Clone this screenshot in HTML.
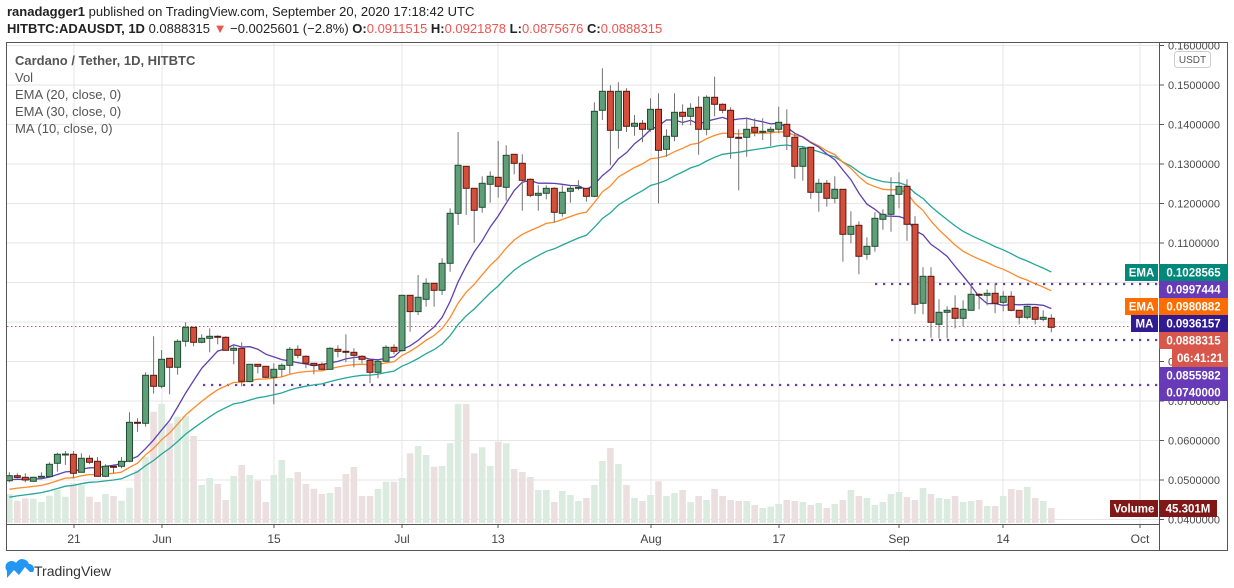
<!DOCTYPE html>
<html><head><meta charset="utf-8">
<style>
body{margin:0;width:1234px;height:588px;background:#fff;overflow:hidden;font-family:"Liberation Sans",sans-serif;}
#hdr{position:absolute;left:7px;top:3px;font-size:13px;color:#222;line-height:17px;white-space:nowrap;z-index:5}
#hdr b{font-weight:bold}
.r{color:#ef5350}
</style></head><body>
<svg id="s" width="1234" height="588" style="position:absolute;left:0;top:0" font-family="Liberation Sans, sans-serif"></svg>
<div id="hdr"><div><b>ranadagger1</b> published on TradingView.com, September 20, 2020 17:18:42 UTC</div>
<div><b>HITBTC:ADAUSDT, 1D</b> 0.0888315 <span class="r">▼</span> −0.0025601 (−2.8%) <b>O:</b><span class="r">0.0911515</span> <b>H:</b><span class="r">0.0921878</span> <b>L:</b><span class="r">0.0875676</span> <b>C:</b><span class="r">0.0888315</span></div></div>
<script>
const A=[[737,752,727,757,'g'],[737,742,730,745,'r'],[742,750,730,757,'r'],[742,754,740,754,'g'],[739,742,727,742,'g'],[703,740,697,740,'g'],[673,700,668,725,'g'],[672,674,663,705,'g'],[673,730,663,745,'r'],[685,727,670,727,'g'],[685,697,676,703,'r'],[694,739,681,740,'r'],[709,739,703,742,'g'],[709,712,703,730,'r'],[694,709,681,715,'g'],[577,694,547,697,'g'],[577,580,565,605,'r'],[436,580,427,590,'g'],[436,469,319,491,'r'],[388,469,360,475,'g'],[385,412,385,493,'r'],[334,412,328,434,'g'],[292,334,277,350,'g'],[292,337,292,349,'r'],[325,337,313,340,'g'],[319,325,295,367,'g'],[319,322,316,343,'r'],[322,361,319,361,'r'],[355,361,343,403,'g'],[355,454,337,469,'r'],[403,455,403,457,'g'],[403,409,403,430,'r'],[409,442,409,445,'r'],[418,442,400,523,'g'],[406,418,400,440,'g'],[358,406,351,431,'g'],[358,376,346,385,'r'],[379,400,376,415,'r'],[400,406,400,433,'r'],[403,418,397,421,'r'],[355,418,352,418,'g'],[358,364,346,382,'r'],[364,367,313,397,'r'],[367,376,355,412,'r'],[379,388,376,400,'r'],[391,427,388,460,'r'],[394,427,391,445,'g'],[352,394,346,394,'g'],[352,364,343,373,'r']];
const B=[[706,872,706,875,'g'],[706,755,706,815,'r'],[712,755,645,765,'g'],[670,718,655,740,'g'],[670,691,670,740,'r'],[610,691,595,705,'g'],[460,610,445,635,'g'],[316,460,216,495,'g'],[319,385,319,465,'r'],[385,451,385,548,'r'],[370,442,349,458,'g'],[349,373,334,428,'g'],[352,379,243,413,'r'],[286,382,256,422,'g'],[283,310,283,343,'r'],[310,361,283,452,'r'],[358,406,355,412,'r'],[400,406,376,452,'g'],[385,400,376,418,'g'],[385,457,382,487,'r'],[397,460,376,470,'g'],[385,394,376,428,'g'],[382,385,361,391,'g'],[385,409,385,425,'r'],[154,409,127,412,'g'],[94,151,25,180,'g'],[94,211,76,316,'r'],[94,211,67,266,'g'],[94,199,85,216,'r'],[190,199,165,227,'g'],[190,208,180,247,'r'],[148,208,115,215,'g'],[148,271,100,430,'r'],[229,268,208,290,'g'],[157,229,100,244,'g'],[157,169,133,196,'r'],[145,169,130,196,'g'],[142,208,109,284,'r'],[112,208,106,226,'g'],[112,133,50,169,'r'],[133,151,130,160,'r'],[151,232,142,296,'r'],[232,235,208,391,'r'],[208,232,172,290,'g'],[202,217,175,229,'r']];
const C=[[124,127,85,150,'g'],[118,124,110,168,'g'],[97,118,50,130,'g'],[103,139,58,180,'r'],[142,229,130,266,'r'],[175,229,170,272,'g'],[172,307,170,326,'r'],[280,307,266,365,'g'],[280,325,270,350,'r'],[298,325,259,340,'g'],[298,433,298,515,'r'],[409,433,364,460,'g'],[406,499,394,553,'r'],[469,493,442,509,'g'],[385,469,367,485,'g'],[373,388,358,419,'g'],[316,373,262,425,'g'],[289,313,247,355,'g'],[289,403,268,452,'r'],[403,643,379,671,'r'],[559,640,532,673,'g'],[559,697,532,743,'r'],[667,703,628,745,'g'],[661,667,649,745,'g'],[655,685,616,715,'r'],[658,685,631,709,'g'],[613,661,583,661,'g'],[613,616,610,658,'r'],[610,616,598,646,'g'],[610,640,580,670,'r'],[619,637,604,664,'g'],[619,661,604,664,'r'],[661,682,661,703,'r'],[649,682,646,688,'g'],[652,688,649,703,'r'],[682,688,661,694,'g'],[685,712,673,727,'r']];
const VA=[792,812,805,806,816,797,780,800,760,765,800,816,792,798,812,773,720,680,545,522,580,560,558,618,765,744,762,810,738,705,735,752,816,735,690,744,726,762,776,792,789,771,732,711,798,798,777,755,755];
const VB=[1254,1180,1158,1185,1220,1218,1150,1032,1032,1180,1162,1218,1145,1150,1227,1236,1251,1290,1290,1326,1293,1305,1323,1314,1275,1203,1164,1212,1275,1314,1323,1305,1264,1308,1299,1290,1326,1308,1320,1287,1308,1320,1323,1323,1335];
const VC=[1254,1250,1242,1230,1233,1236,1245,1239,1254,1242,1230,1200,1218,1224,1245,1236,1212,1206,1221,1230,1194,1212,1224,1227,1218,1236,1233,1230,1248,1248,1218,1197,1200,1191,1224,1233,1254];
const cs=[];const vs=[];
[[A,VA,230],[B,VB,60],[C,VC,90]].forEach(([d,v,o])=>{d.forEach((c,i)=>{cs.push([o+c[0]/3,o+c[1]/3,o+c[2]/3,o+c[3]/3,c[4]]);vs.push(o+v[i]/3);});});
let h='';
const X=i=>9.3+8.015*i;
for(let p=0.16;p>0.035;p-=0.01){const y=85+(0.15-p)*3950;h+=`<line x1="7" x2="1159" y1="${y.toFixed(1)}" y2="${y.toFixed(1)}" stroke="#e6e6e6"/>`;}
const dx=[[74,'21'],[162,'Jun'],[274,'15'],[402,'Jul'],[498,'13'],[651,'Aug'],[779,'17'],[899,'Sep'],[1003,'14'],[1140,'Oct']];
dx.forEach(([x,t])=>{h+=`<line x1="${x}" x2="${x}" y1="42" y2="524" stroke="#e6e6e6"/><line x1="${x}" x2="${x}" y1="524" y2="528" stroke="#555"/><text x="${x}" y="543" font-size="12" fill="#444" text-anchor="middle">${t}</text>`;});
cs.forEach((c,i)=>{h+=`<rect x="${(X(i)-3.3).toFixed(1)}" y="${vs[i].toFixed(1)}" width="6.6" height="${(523-vs[i]).toFixed(1)}" fill="${c[4]=='g'?'#dcebe0':'#ecdfe0'}"/>`;});
h+=`<line x1="7" x2="1159" y1="326.5" y2="326.5" stroke="#e0574a" stroke-dasharray="1.5 2.5"/>`;
h+=`<line x1="203" x2="1159" y1="385" y2="385" stroke="#673ab7" stroke-width="2.2" stroke-dasharray="2.2 5.8"/>`;
h+=`<line x1="875" x2="1159" y1="284" y2="284" stroke="#673ab7" stroke-width="2.2" stroke-dasharray="2.2 5.8"/>`;
h+=`<line x1="891" x2="1159" y1="340" y2="340" stroke="#673ab7" stroke-width="2.2" stroke-dasharray="2.2 5.8"/>`;
let e20=490.7,e30=498.7,hist=Array(9).fill(480);let p1='',p2='',p3='';
cs.forEach((c,i)=>{const cl=c[4]=='g'?c[0]:c[1];e20+=(cl-e20)*2/21;e30+=(cl-e30)*2/31;hist.push(cl);if(hist.length>10)hist.shift();const m=hist.reduce((a,b)=>a+b)/10;const x=X(i).toFixed(1);p1+=(i?'L':'M')+x+','+m.toFixed(1);p2+=(i?'L':'M')+x+','+e20.toFixed(1);p3+=(i?'L':'M')+x+','+e30.toFixed(1);});
h+=`<path d="${p3}" fill="none" stroke="#26a69a" stroke-width="1.3"/><path d="${p2}" fill="none" stroke="#ff8a2b" stroke-width="1.3"/><path d="${p1}" fill="none" stroke="#5e3fb0" stroke-width="1.3"/>`;
cs.forEach((c,i)=>{const x=X(i);const g=c[4]=='g';h+=`<line x1="${x.toFixed(1)}" x2="${x.toFixed(1)}" y1="${c[2].toFixed(1)}" y2="${c[3].toFixed(1)}" stroke="#737375"/>`;h+=`<rect x="${(x-3).toFixed(1)}" y="${c[0].toFixed(1)}" width="6" height="${Math.max(1,c[1]-c[0]).toFixed(1)}" fill="${g?'#5f9e76':'#d44e3c'}" stroke="${g?'#1f4d30':'#5a1810'}" stroke-width="1"/>`;});
h+=`<rect x="1159.5" y="0" width="75" height="588" fill="#fff"/>`;
h+=`<rect x="0" y="0" width="7" height="588" fill="#fff"/>`;
h+=`<rect x="0" y="0" width="1234" height="42" fill="#fff"/>`;
h+=`<path d="M6.5 42.5H1227.5V550.5H6.5Z M6.5 524.5H1159.5 M1159.5 42.5V550.5" fill="none" stroke="#555"/>`;
h+=`<text x="15" y="65" font-size="13" fill="#555" font-weight="bold">Cardano / Tether, 1D, HITBTC</text>`;
['Vol','EMA (20, close, 0)','EMA (30, close, 0)','MA (10, close, 0)'].forEach((t,i)=>{h+=`<text x="15" y="${82+i*17}" font-size="13" fill="#555">${t}</text>`;});
for(let k=16;k>=4;k--){const y=85+(0.15-k/100)*3950;h+=`<line x1="1159" x2="1164" y1="${y.toFixed(1)}" y2="${y.toFixed(1)}" stroke="#555"/><text x="1168" y="${(y+4).toFixed(1)}" font-size="11" fill="#4a4a4a">0.${String(k).padStart(2,'0')}00000</text>`;}
h+=`<rect x="1174.5" y="51.5" width="36" height="16" rx="3" fill="#fff" stroke="#ccc"/><text x="1192.5" y="63" font-size="10" fill="#555" text-anchor="middle">USDT</text>`;
const lab=(y1,y2,c,t,x1=1159,x2=1228)=>`<rect x="${x1}" y="${y1}" width="${x2-x1}" height="${y2-y1}" fill="${c}"/><text x="${(x1+x2)/2}" y="${(y1+y2)/2+4}" font-size="11.5" font-weight="bold" fill="#fff" text-anchor="middle">${t}</text>`;
h+=lab(264,281,'#00897b','EMA',1125,1158)+lab(264,281,'#00897b','0.1028565');
h+=lab(281,298,'#673ab7','0.0997444');
h+=lab(298,315,'#ff6d00','EMA',1125,1158)+lab(298,315,'#ff6d00','0.0980882');
h+=lab(315,332,'#311b92','MA',1131,1158)+lab(315,332,'#311b92','0.0936157');
h+=lab(332,349,'#d9574a','0.0888315');
h+=lab(349,367,'#d9574a','06:41:21',1172,1228);
h+=lab(367,384,'#673ab7','0.0855982');
h+=lab(384,401,'#673ab7','0.0740000');
h+=lab(500,517,'#801818','Volume',1110,1158)+lab(500,517,'#801818','45.301M',1159,1217);
h+=`<path d="M7 578 l7-8 5 5 6-8 5 5 h3 a5 5 0 0 0-4-8 a7 7 0 0 0-13-1 a6 6 0 0 0-9 8 z" fill="#2196f3"/>`;
h+=`<text x="34" y="576" font-size="14" fill="#333">TradingView</text>`;
document.getElementById('s').innerHTML=h;
</script>
</body></html>
